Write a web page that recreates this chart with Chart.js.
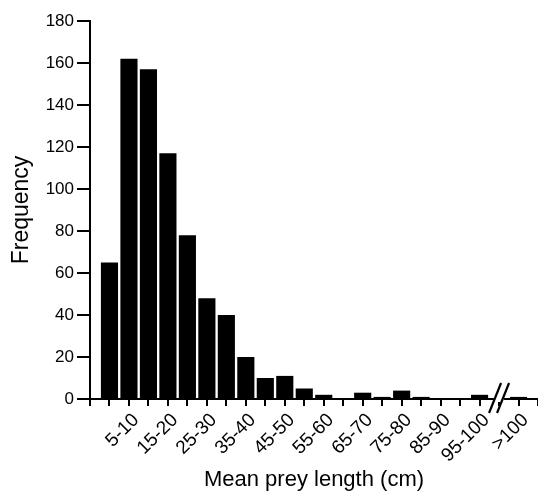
<!DOCTYPE html>
<html>
<head>
<meta charset="utf-8">
<script src="https://cdn.jsdelivr.net/npm/chart.js@4.4.1/dist/chart.umd.min.js"></script>
<style>
  html, body { margin: 0; padding: 0; background: #fff; }
  #wrap { width: 538px; height: 497px; }
</style>
</head>
<body>
<div id="wrap"><canvas id="values"></canvas></div>
<script>
// length classes (cm)
var classes = ['0-5', '5-10', '10-15', '15-20', '20-25', '25-30', '30-35', '35-40', '40-45', '45-50',
	'50-55', '55-60', '60-65', '65-70', '70-75', '75-80', '80-85', '85-90', '90-95', '95-100'];
var freq = [65, 162, 157, 117, 78, 48, 40, 20, 10, 11,
	5, 2, 0, 3, 1, 4, 1, 0, 0, 2];
var overLabel = '>100';
var overFreq = 1;
// only every second class gets a label
var shownLabels = ['', '5-10', '', '15-20', '', '25-30', '', '35-40', '', '45-50',
	'', '55-60', '', '65-70', '', '75-80', '', '85-90', '', '95-100'];
var yTicks = { min: 0, max: 180, step: 20 };

// slots: axis start, 20 classes, break, >100, axis end
var labels = [''].concat(classes, ['//', overLabel, '']);
var data = [null].concat(freq, [null, overFreq, null]);
var tickText = [''].concat(shownLabels, ['', overLabel, '']);
var breakIndex = classes.length + 1;

var font = 'Liberation Sans, Arial, Helvetica, sans-serif';

var axisBreak = {
	id: 'axisBreak',
	afterDraw: function(chart) {
		var x = chart.scales.x;
		var y = chart.scales.y;
		var ctx = chart.ctx;
		var cx = x.getPixelForValue(breakIndex);
		var cy = y.getPixelForValue(0);
		ctx.save();
		ctx.fillStyle = '#fff';
		ctx.fillRect(cx - 5, cy - 3, 10, 6);
		ctx.strokeStyle = '#000';
		ctx.lineWidth = 2.2;
		[-4, 4].forEach(function(d) {
			ctx.beginPath();
			ctx.moveTo(cx + d - 6, cy + 14);
			ctx.lineTo(cx + d + 6, cy - 16);
			ctx.stroke();
		});
		ctx.restore();
	}
};

var ctx = document.getElementById('values');
var barGraph = new Chart(ctx, {
	type: 'bar',
	data: {
		labels: labels,
		datasets: [{
			label: 'Frequency',
			backgroundColor: '#000',
			borderWidth: 0,
			data: data,
			barPercentage: 0.88,
			categoryPercentage: 1
		}]
	},
	options: {
		responsive: true,
		maintainAspectRatio: false,
		animation: false,
		layout: { padding: { top: 21, right: 0, left: 0, bottom: 0 } },
		plugins: { legend: { display: false }, tooltip: { enabled: false } },
		scales: {
			x: {
				offset: false,
				grid: { display: true, drawOnChartArea: false, offset: false, color: '#000', lineWidth: 2, tickLength: 7 },
				border: { display: true, color: '#000', width: 2 },
				ticks: {
					autoSkip: false, minRotation: 45, maxRotation: 45, color: '#000', padding: 3, labelOffset: 7,
					font: { family: font, size: 19 },
					callback: function(v, i) { return tickText[i]; }
				},
				title: { display: true, text: 'Mean prey length (cm)', color: '#000', font: { family: font, size: 22 }, padding: { top: 0, bottom: 4 } },
				afterFit: function(s) { s.height = 98; s.paddingRight = 0; s.paddingLeft = 0; }
			},
			y: {
				min: yTicks.min, max: yTicks.max,
				grid: { display: true, drawOnChartArea: false, color: '#000', lineWidth: 2, tickLength: 13 },
				border: { display: true, color: '#000', width: 2 },
				ticks: { stepSize: yTicks.step, color: '#000', padding: 3, font: { family: font, size: 17 } },
				title: { display: true, text: 'Frequency', color: '#000', font: { family: font, size: 23 }, padding: { top: 8, bottom: 0 } },
				afterFit: function(s) { s.width = 90; }
			}
		}
	},
	plugins: [axisBreak]
});
</script>
</body>
</html>
